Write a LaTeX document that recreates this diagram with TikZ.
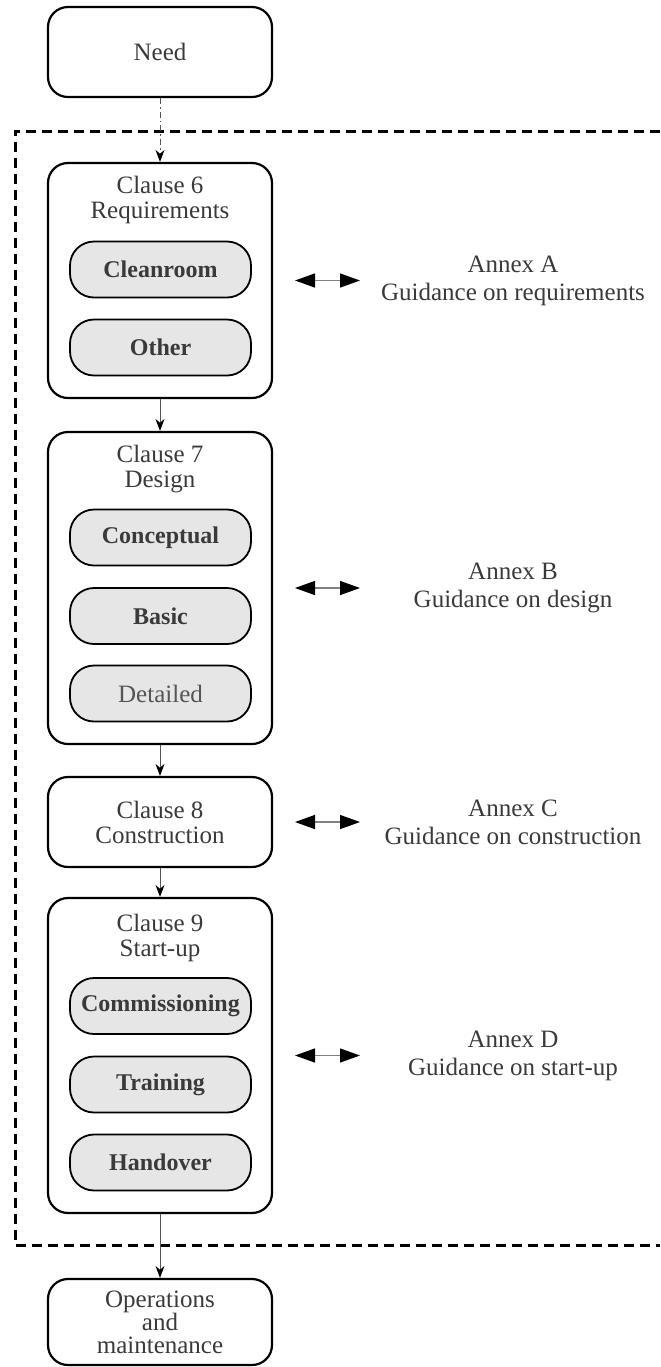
\documentclass[tikz,border=0pt]{standalone}
\usepackage{fontspec}
\setmainfont{Liberation Serif}
\usepackage{tikz}
\usetikzlibrary{arrows.meta}

\definecolor{inkgray}{RGB}{58,58,58}
\definecolor{subfill}{RGB}{230,230,230}
\definecolor{linegray}{RGB}{85,85,85}

\tikzset{
  clausebox/.style={draw, line width=1.1pt, rounded corners=10pt, minimum width=112pt,
    inner sep=0pt, align=center, text=inkgray, font=\fontsize{12.5}{12.5}\selectfont},
  subbox/.style={draw, line width=0.9pt, fill=subfill, rounded corners=12pt,
    minimum width=90.5pt, minimum height=28pt, inner sep=0pt, text=inkgray,
    font=\fontsize{12}{12.5}\selectfont\bfseries},
  detailbox/.style={subbox, text=linegray, font=\fontsize{12.5}{12.5}\selectfont},
  titletext/.style={align=center, text=inkgray, font=\fontsize{12.5}{12.5}\selectfont},
  annextext/.style={align=center, text=inkgray, font=\fontsize{12.5}{14}\selectfont},
  flow/.style={draw=linegray, line width=0.5pt, -{Stealth[length=6pt,width=4.5pt,color=black]}},
  biarrow/.style={draw=gray, line width=0.7pt,
    {Triangle[length=10pt,width=7pt,color=black]}-{Triangle[length=10pt,width=7pt,color=black]}},
  scopeframe/.style={line width=1.5pt, dash pattern=on 5pt off 3pt},
}

\begin{document}
\begin{tikzpicture}[x=0.5pt, y=-0.5pt]
\useasboundingbox (0,0) rectangle (660,1367);

\path
 (160,52)     node [clausebox, minimum height=45pt]    (need) {Need}
 (160,280.5)  node [clausebox, minimum height=117.5pt] (c6)   {}
 (160,588)    node [clausebox, minimum height=156pt]   (c7)   {}
 (160,822)    node [clausebox, minimum height=45pt]    (c8)   {Clause 8\\Construction}
 (160,1055.5) node [clausebox, minimum height=157.5pt] (c9)   {}
 (160,1322)   node [clausebox, minimum height=43pt,
                    font=\fontsize{12.5}{11.5}\selectfont] (ops) {Operations\\and\\maintenance}
;

\path
 (160,200)    node [titletext] (c6title) {Clause 6\\Requirements}
 (160,469.5)  node [titletext] (c7title) {Clause 7\\Design}
 (160,937.5)  node [titletext] (c9title) {Clause 9\\Start-up}
 (160.5,269.5)  node [subbox]    (clean)   {Cleanroom}
 (160.5,347.5)  node [subbox]    (other)   {Other}
 (160.5,537.5)  node [subbox]    (concept) {Conceptual}
 (160.5,616)    node [subbox]    (basic)   {Basic}
 (160.5,693.5)  node [detailbox] (detail)  {Detailed}
 (160.5,1006)   node [subbox]    (commis)  {Commissioning}
 (160.5,1084.5) node [subbox]    (train)   {Training}
 (160.5,1162.5) node [subbox]    (handover) {Handover}
;

\path
 (513,280.5)  node [annextext] (annA) {Annex A\\Guidance on requirements}
 (513,588)    node [annextext] (annB) {Annex B\\Guidance on design}
 (513,822)    node [annextext] (annC) {Annex C\\Guidance on construction}
 (513,1055.5) node [annextext] (annD) {Annex D\\Guidance on start-up}
 (295,280.5)  coordinate (aL)  (360,280.5)  coordinate (aR)
 (295,588)    coordinate (bL)  (360,588)    coordinate (bR)
 (295,822)    coordinate (cL)  (360,822)    coordinate (cR)
 (295,1055.5) coordinate (dL)  (360,1055.5) coordinate (dR)
;

\draw [scopeframe]
   (660,131) -- (15,131) -- (15,1245) -- (660,1245)
;

\draw [flow, dash pattern=on 3pt off 1.5pt on 0.8pt off 1.5pt] (need) -- (c6);
\draw [flow] (c6) -- (c7);
\draw [flow] (c7) -- (c8);
\draw [flow] (c8) -- (c9);
\draw [flow] (c9) -- (ops);

\draw [biarrow] (aL) -- (aR);
\draw [biarrow] (bL) -- (bR);
\draw [biarrow] (cL) -- (cR);
\draw [biarrow] (dL) -- (dR);
\end{tikzpicture}
\end{document}
